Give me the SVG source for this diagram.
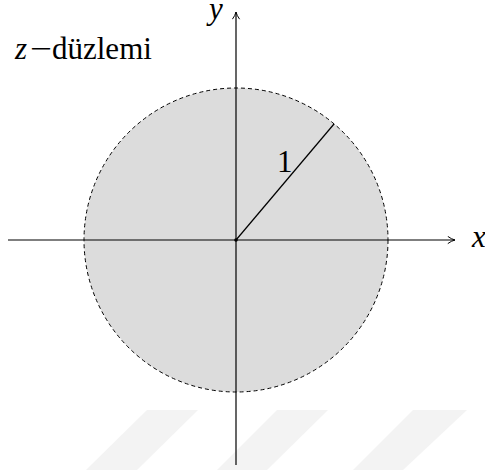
<svg xmlns="http://www.w3.org/2000/svg" width="485" height="470" viewBox="0 0 485 470">
<style>
.ax{stroke:#000;stroke-width:1.2;fill:none}
.wm{fill:#f3f3f3}
</style>
<defs>
<marker id="arr" viewBox="0 0 10 10" refX="9" refY="5" markerWidth="9" markerHeight="9" markerUnits="userSpaceOnUse" orient="auto">
<path d="M1,1 Q5,4 9,5 Q5,6 1,9" fill="none" stroke="#000" stroke-width="1.1"/>
</marker>
</defs>
<rect width="485" height="470" fill="#fff"/>
<g id="watermark">
<polygon class="wm" points="147,410 198,410 137,470 86,470"/>
<polygon class="wm" points="277,410 328,410 267,470 217,470"/>
<polygon class="wm" points="413,410 467,410 403,470 353,470"/>
</g>
<g id="disk">
<circle cx="236" cy="240" r="152" fill="#dcdcdc" stroke="#000" stroke-width="1" stroke-dasharray="4,3"/>
</g>
<g id="connectors">
<line class="ax" x1="8" y1="240" x2="455" y2="240" marker-end="url(#arr)"/>
<line class="ax" x1="236" y1="465" x2="236" y2="12" marker-end="url(#arr)"/>
<line class="ax" x1="236" y1="240" x2="334" y2="124"/>
<circle cx="236" cy="240" r="1.8" fill="#000"/>
</g>
<g id="labels" font-family="'Liberation Serif', 'Times New Roman', serif" font-size="31" fill="#000">
<text x="209" y="19" font-style="italic">y</text>
<text x="472" y="247" font-style="italic">x</text>
<text x="15" y="59"><tspan font-style="italic">z</tspan><tspan x="30" textLength="22" lengthAdjust="spacingAndGlyphs">−</tspan><tspan x="52">düzlemi</tspan></text>
<text x="277" y="172">1</text>
</g>
</svg>
